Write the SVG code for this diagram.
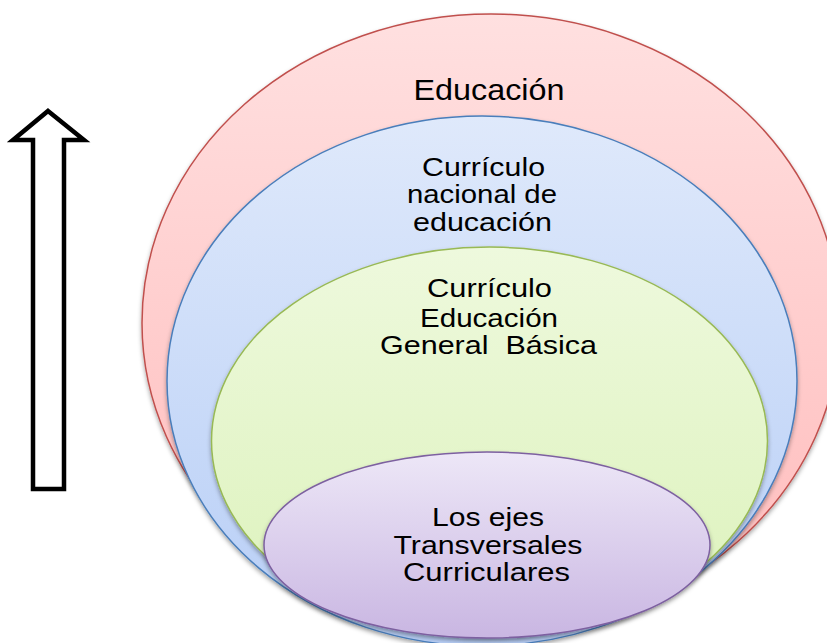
<svg xmlns="http://www.w3.org/2000/svg" width="827" height="643" viewBox="0 0 827 643">
  <defs>
    <linearGradient id="gRed" x1="0" y1="0" x2="0" y2="1">
      <stop offset="0" stop-color="#FFE0E0"/>
      <stop offset="1" stop-color="#FFBBBB"/>
    </linearGradient>
    <linearGradient id="gBlue" x1="0" y1="0" x2="0" y2="1">
      <stop offset="0" stop-color="#DFE9FB"/>
      <stop offset="1" stop-color="#B7CEF6"/>
    </linearGradient>
    <linearGradient id="gGreen" x1="0" y1="0" x2="0" y2="1">
      <stop offset="0" stop-color="#EEF9DD"/>
      <stop offset="1" stop-color="#DCF2BB"/>
    </linearGradient>
    <linearGradient id="gPurple" x1="0" y1="0" x2="0" y2="1">
      <stop offset="0" stop-color="#EDE7F7"/>
      <stop offset="1" stop-color="#C9B6E2"/>
    </linearGradient>
    <filter id="shadow" x="-10%" y="-10%" width="120%" height="125%">
      <feDropShadow dx="0" dy="2.5" stdDeviation="2" flood-color="#000" flood-opacity="0.35"/>
    </filter>
  </defs>
  <style>
    .lbl { font-family: "Liberation Sans", Arial, sans-serif; fill: #000; text-anchor: middle; }
    .big { font-size: 29px; }
    .med { font-size: 25px; }
    ellipse { stroke-width: 1.5; filter: url(#shadow); }
  </style>

  <g id="arrow">
    <polygon points="48,111 84,140 64,140 64,489 33,489 33,140 13,140" fill="#FFFFFF" stroke="#000000" stroke-width="4.5" stroke-linejoin="miter"/>
  </g>

  <g id="educacion">
    <ellipse cx="491" cy="323" rx="349" ry="309" fill="url(#gRed)" stroke="#C0504D"/>
    <text class="lbl big" x="489" y="100" textLength="151" lengthAdjust="spacingAndGlyphs">Educación</text>
  </g>

  <g id="curriculo-nacional">
    <ellipse cx="482" cy="381" rx="315" ry="265" fill="url(#gBlue)" stroke="#4A7EBB"/>
    <text class="lbl med" x="483.5" y="176" textLength="123" lengthAdjust="spacingAndGlyphs">Currículo</text>
    <text class="lbl med" x="482" y="203" textLength="150" lengthAdjust="spacingAndGlyphs">nacional de</text>
    <text class="lbl med" x="482.5" y="231" textLength="139" lengthAdjust="spacingAndGlyphs">educación</text>
  </g>

  <g id="curriculo-egb">
    <ellipse cx="489.5" cy="441" rx="278" ry="194" fill="url(#gGreen)" stroke="#98B954"/>
    <text class="lbl med" x="489.5" y="297" textLength="125" lengthAdjust="spacingAndGlyphs">Currículo</text>
    <text class="lbl med" x="489" y="327" textLength="138" lengthAdjust="spacingAndGlyphs">Educación</text>
    <text class="lbl med" x="488.5" y="354" textLength="217" lengthAdjust="spacingAndGlyphs" style="white-space:pre">General  Básica</text>
  </g>

  <g id="ejes-transversales">
    <ellipse cx="487" cy="545" rx="223" ry="93" fill="url(#gPurple)" stroke="#7D60A0"/>
    <text class="lbl med" x="488" y="526" textLength="112" lengthAdjust="spacingAndGlyphs">Los ejes</text>
    <text class="lbl med" x="488" y="554" textLength="189" lengthAdjust="spacingAndGlyphs">Transversales</text>
    <text class="lbl med" x="486.5" y="581" textLength="167" lengthAdjust="spacingAndGlyphs">Curriculares</text>
  </g>

  <g id="connectors"></g>
</svg>
